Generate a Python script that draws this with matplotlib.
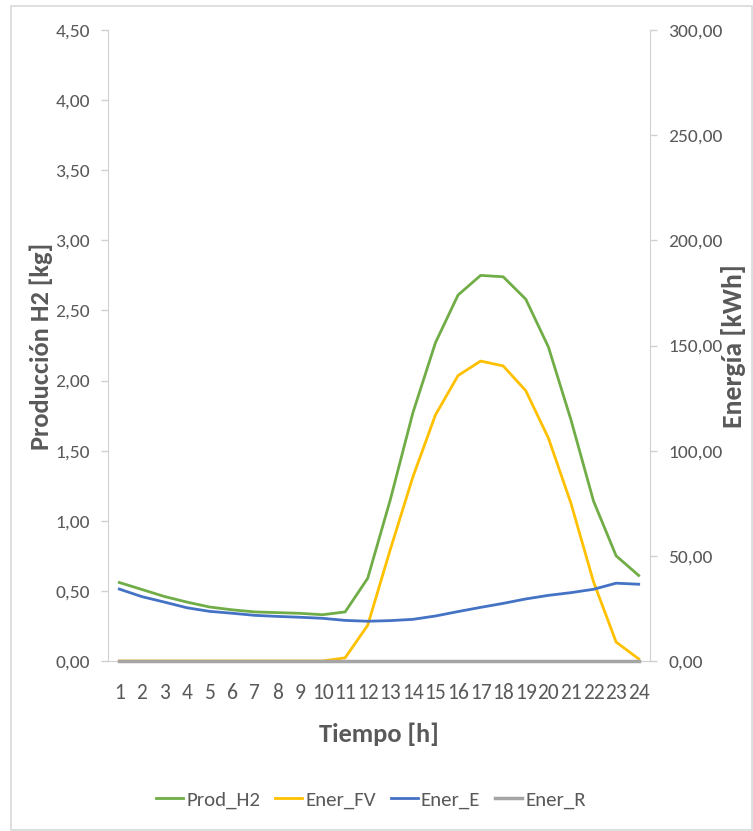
import matplotlib
matplotlib.use("Agg")
import matplotlib.pyplot as plt
from matplotlib.patches import Rectangle
from matplotlib.ticker import FuncFormatter, MultipleLocator

plt.rcParams['font.family'] = ['Carlito', 'DejaVu Sans']

hours = list(range(1, 25))
prod_h2 = [0.56, 0.51, 0.46, 0.42, 0.385, 0.365, 0.35, 0.345, 0.34, 0.33, 0.35, 0.59,
           1.15, 1.77, 2.27, 2.61, 2.75, 2.74, 2.58, 2.24, 1.72, 1.14, 0.75, 0.61]
ener_fv = [0, 0, 0, 0, 0, 0, 0, 0, 0, 0, 1.5, 17,
           53, 87.5, 117, 135.7, 142.6, 140.3, 128.5, 106, 75, 37.6, 9, 1]
ener_e = [34.2, 30.6, 28, 25.3, 23.6, 22.7, 21.7, 21.2, 20.8, 20.3, 19.3, 18.9,
          19.2, 19.8, 21.4, 23.5, 25.5, 27.4, 29.5, 31.2, 32.5, 34.1, 37, 36.5]
ener_r = [0] * 24

C_GREEN = '#70AD47'
C_YELLOW = '#FFC000'
C_BLUE = '#4472C4'
C_GRAY = '#A5A5A5'
TXT = '#595959'
AX = '#D0D0D0'

W, H = 753, 831
fig = plt.figure(figsize=(W / 100, H / 100), dpi=100)
fig.patches.append(Rectangle((11 / W, 1 / H), (W - 12) / W, (H - 7) / H, transform=fig.transFigure,
                             fill=False, edgecolor='#D9D9D9', lw=1.2))

ax = fig.add_axes([108 / W, (H - 661) / H, (650 - 108) / W, (661 - 30) / H])
ax2 = ax.twinx()

lw = 2.0
l1, = ax.plot(hours, prod_h2, color=C_GREEN, lw=lw, label='Prod_H2', zorder=3)
l2, = ax2.plot(hours, ener_fv, color=C_YELLOW, lw=lw, label='Ener_FV', zorder=3)
l3, = ax2.plot(hours, ener_e, color=C_BLUE, lw=lw, label='Ener_E', zorder=3)
l4, = ax2.plot(hours, ener_r, color=C_GRAY, lw=lw + 0.5, label='Ener_R', zorder=4, clip_on=False)

ax.set_xlim(0.5, 24.5)
ax.set_ylim(0, 4.5)
ax2.set_ylim(0, 300)
ax.yaxis.set_major_locator(MultipleLocator(0.5))
ax2.yaxis.set_major_locator(MultipleLocator(50))
ax.set_xticks(hours)
ax.set_xticklabels([str(h) for h in hours])

fmt1 = FuncFormatter(lambda v, p: f"{v:.2f}".replace('.', ','))
ax.yaxis.set_major_formatter(fmt1)
ax2.yaxis.set_major_formatter(fmt1)

for a in (ax, ax2):
    for s in a.spines.values():
        s.set_visible(False)
    a.set_facecolor('none')
ax.spines['left'].set_visible(True)
ax.spines['left'].set_color(AX)
ax.spines['bottom'].set_visible(True)
ax.spines['bottom'].set_color(AX)
ax2.spines['right'].set_visible(True)
ax2.spines['right'].set_color(AX)

ax.tick_params(axis='y', colors=AX, labelcolor=TXT, labelsize=14, length=5, width=1, pad=8)
ax2.tick_params(axis='y', colors=AX, labelcolor=TXT, labelsize=14, length=5, width=1, pad=8)
ax.tick_params(axis='x', length=0, labelcolor=TXT, labelsize=15.5, pad=16)

ax.set_xlabel('Tiempo [h]', fontsize=19, fontweight='bold', color=TXT, labelpad=14)
fig.text(41 / W, 1 - 346 / H, 'Producción H2 [kg]', rotation=90, ha='center', va='center',
         fontsize=19, fontweight='bold', color=TXT)
fig.text(734 / W, 1 - 346 / H, 'Energía [kWh]', rotation=90, ha='center', va='center',
         fontsize=20, fontweight='bold', color=TXT)

fig.legend(handles=[l1, l2, l3, l4], loc='center', bbox_to_anchor=(371 / W, 1 - 800 / H),
           ncol=4, frameon=False, fontsize=15, labelcolor=TXT, handlelength=1.3,
           handletextpad=0.15, columnspacing=0.7)

fig.savefig('out.png', dpi=100)
